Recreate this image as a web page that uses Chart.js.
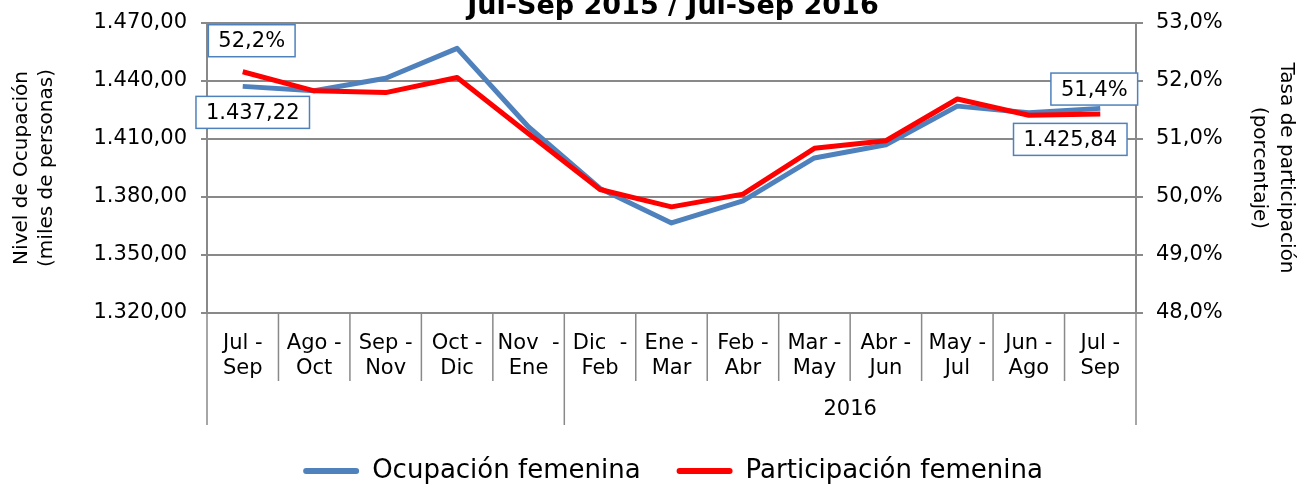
<!DOCTYPE html>
<html>
<head>
<meta charset="utf-8">
<script src="https://cdn.jsdelivr.net/npm/chart.js@4.4.0/dist/chart.umd.min.js"></script>
<style>
  html, body { margin: 0; padding: 0; background: #fff; }
  #wrap { width: 1302px; height: 485px; }
</style>
</head>
<body>
<div id="wrap"><canvas id="lineChart" width="1302" height="485"></canvas></div>
<script>
// Datos
const periodos = [
    ['Jul -', 'Sep'], ['Ago -', 'Oct'], ['Sep -', 'Nov'], ['Oct -', 'Dic'], ['Nov  -', 'Ene'],
    ['Dic  -', 'Feb'], ['Ene -', 'Mar'], ['Feb -', 'Abr'], ['Mar -', 'May'], ['Abr -', 'Jun'],
    ['May -', 'Jul'], ['Jun -', 'Ago'], ['Jul -', 'Sep']
];
const grupos = ['', '2016'];
const inicioGrupo = [0, 5];
const ocupacion = [1437.22, 1435.0, 1441.4, 1456.9, 1416.2, 1384.4, 1366.6, 1378.0, 1400.2, 1407.0, 1427.0, 1423.6, 1425.84];
const participacion = [52.16, 51.83, 51.80, 52.06, 51.09, 50.13, 49.83, 50.05, 50.84, 50.97, 51.69, 51.41, 51.43];
const ticksOcupacion = [1320, 1350, 1380, 1410, 1440, 1470];
const ticksTasa = [48, 49, 50, 51, 52, 53];
const titulo = 'Jul-Sep 2015 / Jul-Sep 2016';

const fuente = 'DejaVu Sans';
const gris = '#898989';

function formatoMiles(v) {
    const partes = v.toFixed(2).split('.');
    return partes[0].replace(/\B(?=(\d{3})+(?!\d))/g, '.') + ',' + partes[1];
}
function formatoPct(v) {
    return v.toFixed(1).replace('.', ',') + '%';
}

// etiquetas con recuadro (primer y último punto)
const etiquetas = [
    { ds: 1, i: 0, texto: formatoPct(participacion[0]), dx: 9, dy: -31 },
    { ds: 0, i: 0, texto: formatoMiles(ocupacion[0]), dx: 10, dy: 26 },
    { ds: 1, i: 12, texto: formatoPct(participacion[12]), dx: -6, dy: -25 },
    { ds: 0, i: 12, texto: formatoMiles(ocupacion[12]), dx: -30, dy: 31 }
];

const extras = {
    id: 'extras',
    afterDraw(chart) {
        const ctx = chart.ctx;
        const x = chart.scales.x;
        const area = chart.chartArea;
        const paso = x.getPixelForValue(1) - x.getPixelForValue(0);
        ctx.save();
        ctx.strokeStyle = gris;
        ctx.lineWidth = 1.5;
        for (let i = 0; i <= periodos.length; i++) {
            const px = x.getPixelForValue(i) - paso / 2;
            const esGrupo = inicioGrupo.includes(i) || i === periodos.length;
            ctx.beginPath();
            ctx.moveTo(px, area.bottom);
            ctx.lineTo(px, esGrupo ? 425 : 381);
            ctx.stroke();
        }
        ctx.fillStyle = '#000';
        ctx.font = '21px "' + fuente + '"';
        ctx.textAlign = 'center';
        ctx.textBaseline = 'middle';
        grupos.forEach((g, k) => {
            const a = inicioGrupo[k];
            const b = k + 1 < inicioGrupo.length ? inicioGrupo[k + 1] - 1 : periodos.length - 1;
            const cx = (x.getPixelForValue(a) + x.getPixelForValue(b)) / 2;
            ctx.fillText(g, cx, 410);
        });

        etiquetas.forEach(e => {
            const p = chart.getDatasetMeta(e.ds).data[e.i];
            const cx = p.x + e.dx, cy = p.y + e.dy;
            const w = ctx.measureText(e.texto).width + 20;
            const h = 32;
            ctx.fillStyle = '#fff';
            ctx.fillRect(cx - w / 2, cy - h / 2, w, h);
            ctx.strokeStyle = '#4F81BD';
            ctx.lineWidth = 1.5;
            ctx.strokeRect(cx - w / 2, cy - h / 2, w, h);
            ctx.fillStyle = '#000';
            ctx.fillText(e.texto, cx, cy + 1);
        });
        ctx.restore();
    }
};

const ctxLine = document.getElementById('lineChart').getContext('2d');
const lineChart = new Chart(ctxLine, {
    type: 'line',
    data: {
        labels: periodos,
        datasets: [{
            label: 'Ocupación femenina',
            data: ocupacion,
            yAxisID: 'y',
            borderColor: '#4F81BD',
            backgroundColor: '#4F81BD',
            borderWidth: 5,
            pointRadius: 0,
            tension: 0,
            borderJoinStyle: 'round',
            order: 2
        }, {
            label: 'Participación femenina',
            data: participacion,
            yAxisID: 'y1',
            borderColor: '#FF0000',
            backgroundColor: '#FF0000',
            borderWidth: 5,
            pointRadius: 0,
            tension: 0,
            borderJoinStyle: 'round',
            order: 1
        }]
    },
    options: {
        responsive: false,
        animation: false,
        layout: { padding: { top: 0, left: 44, right: 0, bottom: 0 } },
        plugins: {
            title: {
                display: true,
                text: titulo,
                color: '#000',
                font: { family: fuente, size: 27, weight: 'bold', lineHeight: 1.2 },
                padding: { top: -9, bottom: -0.4 }
            },
            legend: {
                position: 'bottom',
                maxHeight: 60,
                title: {
                    display: true,
                    text: ' ',
                    font: { size: 1, lineHeight: 1 },
                    padding: { top: -4, bottom: 0 }
                },
                labels: {
                    color: '#000',
                    font: { family: fuente, size: 26 },
                    boxWidth: 56,
                    boxHeight: 6,
                    padding: 36,
                    useBorderRadius: true,
                    borderRadius: 3,
                    sort: (a, b) => a.datasetIndex - b.datasetIndex,
                    generateLabels: chart => Chart.defaults.plugins.legend.labels.generateLabels(chart)
                        .map(l => Object.assign(l, { lineWidth: 0 }))
                }
            },
            tooltip: { enabled: false }
        },
        scales: {
            x: {
                offset: true,
                grid: { display: false, drawTicks: false },
                border: { display: true, color: gris, width: 2 },
                ticks: {
                    color: '#000',
                    font: { family: fuente, size: 21, lineHeight: 1.2 },
                    padding: 18,
                    maxRotation: 0,
                    autoSkip: false
                },
                afterFit: s => { s.height = 112; }
            },
            y: {
                position: 'left',
                min: 1320,
                max: 1470,
                afterBuildTicks: s => { s.ticks = ticksOcupacion.map(v => ({ value: v })); },
                grid: { color: gris, lineWidth: 2, tickLength: 6 },
                border: { display: true, color: gris, width: 2 },
                ticks: {
                    color: '#000',
                    font: { family: fuente, size: 21, lineHeight: 0.4 },
                    padding: 14,
                    callback: v => formatoMiles(v)
                },
                title: {
                    display: true,
                    text: ['Nivel de Ocupación', '(miles de personas)'],
                    color: '#000',
                    font: { family: fuente, size: 20, lineHeight: 1.25 },
                    padding: { top: -35, bottom: 0 }
                },
                afterFit: s => { s.width = 163; }
            },
            y1: {
                position: 'right',
                min: 48,
                max: 53,
                afterBuildTicks: s => { s.ticks = ticksTasa.map(v => ({ value: v })); },
                grid: { drawOnChartArea: false, color: gris, lineWidth: 2, tickLength: 7 },
                border: { display: true, color: gris, width: 2 },
                ticks: {
                    color: '#000',
                    font: { family: fuente, size: 21, lineHeight: 0.4 },
                    padding: 13,
                    callback: v => formatoPct(v)
                },
                title: {
                    display: true,
                    text: ['Tasa de participación', '(porcentaje)'],
                    color: '#000',
                    font: { family: fuente, size: 20, lineHeight: 1.35 },
                    padding: { top: 2, bottom: 0 }
                },
                afterFit: s => { s.width = 166; }
            }
        }
    },
    plugins: [extras]
});
</script>
</body>
</html>
